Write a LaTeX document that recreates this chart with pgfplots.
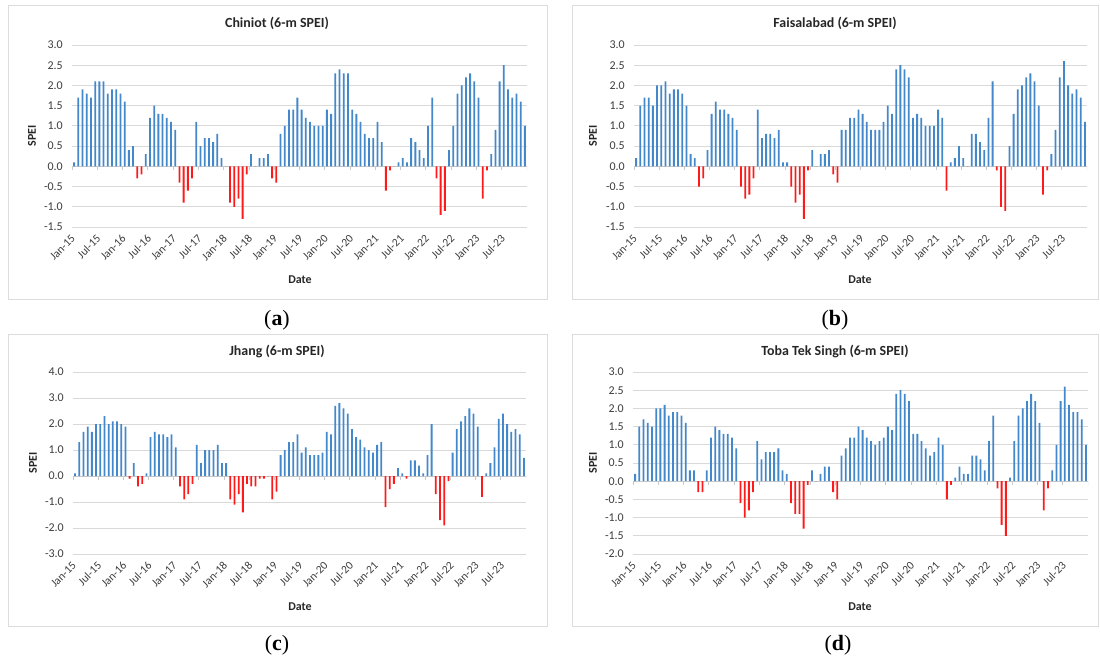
\documentclass[border=0pt]{standalone}
\usepackage{pgfplots}
\pgfplotsset{compat=1.18}
\usepackage{pgfplotstable}
\usepackage{fontspec}
\setmainfont{Carlito}
\newfontfamily\seriffont{Liberation Serif}
\definecolor{speiblue}{RGB}{66,136,202}
\definecolor{speired}{RGB}{255,25,25}
\definecolor{gridgray}{RGB}{217,217,217}
\definecolor{zerogray}{RGB}{200,200,200}
\definecolor{boxgray}{RGB}{220,220,220}
\definecolor{txtgray}{RGB}{60,60,60}

% Chiniot
\pgfplotstableread[row sep=\\]{v\\
0.1\\1.7\\1.9\\1.8\\1.7\\2.1\\2.1\\2.1\\1.8\\1.9\\1.9\\1.8\\1.6\\
0.4\\0.5\\-0.3\\-0.2\\0.3\\1.2\\1.5\\1.3\\1.3\\1.2\\1.1\\0.9\\
-0.4\\-0.9\\-0.6\\-0.3\\1.1\\0.5\\0.7\\0.7\\0.6\\0.8\\0.2\\0\\
-0.9\\-1.0\\-0.8\\-1.3\\-0.2\\0.3\\0\\0.2\\0.2\\0.3\\-0.3\\-0.4\\
0.8\\1.0\\1.4\\1.4\\1.7\\1.4\\1.2\\1.1\\1.0\\1.0\\1.0\\1.4\\
1.3\\2.3\\2.4\\2.3\\2.3\\1.4\\1.3\\1.1\\0.8\\0.7\\0.7\\1.1\\
0.6\\-0.6\\-0.1\\0\\0.1\\0.2\\0.1\\0.7\\0.6\\0.4\\0.2\\1.0\\
1.7\\-0.3\\-1.2\\-1.1\\0.4\\1.0\\1.8\\2.0\\2.2\\2.3\\2.1\\1.7\\
-0.8\\-0.1\\0.3\\0.9\\2.1\\2.5\\1.9\\1.7\\1.8\\1.6\\1.0\\
}\tabA
% Faisalabad
\pgfplotstableread[row sep=\\]{v\\
0.2\\1.5\\1.7\\1.7\\1.5\\2.0\\2.0\\2.1\\1.8\\1.9\\1.9\\1.8\\1.5\\
0.3\\0.2\\-0.5\\-0.3\\0.4\\1.3\\1.6\\1.4\\1.4\\1.3\\1.2\\0.9\\
-0.5\\-0.8\\-0.7\\-0.3\\1.4\\0.7\\0.8\\0.8\\0.7\\0.9\\0.1\\0.1\\
-0.5\\-0.9\\-0.7\\-1.3\\-0.1\\0.4\\0\\0.3\\0.3\\0.4\\-0.2\\-0.4\\
0.9\\0.9\\1.2\\1.2\\1.4\\1.3\\1.1\\0.9\\0.9\\0.9\\1.1\\1.5\\
1.3\\2.4\\2.5\\2.4\\2.2\\1.2\\1.3\\1.2\\1.0\\1.0\\1.0\\1.4\\
1.2\\-0.6\\0.1\\0.2\\0.5\\0.2\\0\\0.8\\0.8\\0.6\\0.4\\1.2\\
2.1\\-0.1\\-1.0\\-1.1\\0.5\\1.3\\1.9\\2.0\\2.2\\2.3\\2.1\\1.5\\
-0.7\\-0.1\\0.3\\0.9\\2.2\\2.6\\2.0\\1.8\\1.9\\1.7\\1.1\\
}\tabB
% Jhang
\pgfplotstableread[row sep=\\]{v\\
0.1\\1.3\\1.7\\1.9\\1.7\\2.0\\2.0\\2.3\\2.0\\2.1\\2.1\\2.0\\1.9\\
-0.1\\0.5\\-0.4\\-0.3\\0.1\\1.5\\1.7\\1.6\\1.6\\1.5\\1.6\\1.1\\
-0.4\\-0.9\\-0.7\\-0.3\\1.2\\0.5\\1.0\\1.0\\1.0\\1.2\\0.5\\0.5\\
-0.9\\-1.1\\-0.7\\-1.4\\-0.3\\-0.4\\-0.4\\-0.1\\-0.1\\0\\-0.9\\-0.6\\
0.8\\1.0\\1.3\\1.3\\1.6\\0.9\\1.1\\0.8\\0.8\\0.8\\0.9\\1.7\\
1.6\\2.7\\2.8\\2.6\\2.4\\1.8\\1.5\\1.4\\1.1\\1.0\\0.9\\1.2\\
1.3\\-1.2\\-0.5\\-0.3\\0.3\\0.1\\-0.1\\0.6\\0.6\\0.4\\0.1\\0.8\\
2.0\\-0.7\\-1.7\\-1.9\\-0.2\\0.9\\1.8\\2.1\\2.3\\2.6\\2.4\\1.9\\
-0.8\\0.1\\0.5\\1.1\\2.2\\2.4\\2.0\\1.7\\1.8\\1.6\\0.7\\
}\tabC
% Toba Tek Singh
\pgfplotstableread[row sep=\\]{v\\
0.2\\1.5\\1.7\\1.6\\1.5\\2.0\\2.0\\2.1\\1.8\\1.9\\1.9\\1.8\\1.6\\
0.3\\0.3\\-0.3\\-0.3\\0.3\\1.2\\1.5\\1.4\\1.3\\1.3\\1.2\\0.9\\
-0.6\\-1.0\\-0.8\\-0.3\\1.1\\0.6\\0.8\\0.8\\0.8\\0.9\\0.3\\0.2\\
-0.6\\-0.9\\-0.9\\-1.3\\-0.1\\0.3\\0\\0.2\\0.4\\0.4\\-0.3\\-0.5\\
0.7\\0.9\\1.2\\1.2\\1.5\\1.4\\1.2\\1.1\\1.0\\1.1\\1.2\\1.5\\
1.4\\2.4\\2.5\\2.4\\2.2\\1.3\\1.3\\1.1\\0.9\\0.7\\0.8\\1.2\\
1.0\\-0.5\\-0.1\\0.1\\0.4\\0.2\\0.2\\0.7\\0.7\\0.6\\0.3\\1.1\\
1.8\\-0.2\\-1.2\\-1.5\\0.1\\1.1\\1.8\\2.0\\2.2\\2.4\\2.2\\1.6\\
-0.8\\-0.2\\0.3\\1.0\\2.2\\2.6\\2.1\\1.9\\1.9\\1.7\\1.0\\
}\tabD

\pgfplotsset{
  speiaxis/.style={
    scale only axis, anchor=south west,
    xmin=-0.5, xmax=107.5, enlarge x limits=false,
    axis x line*=bottom, axis y line*=left,
    axis line style={draw=none},
    major tick length=0pt,
    ymajorgrids, grid style={gridgray, line width=0.8bp},
    xtick={0,6,12,18,24,30,36,42,48,54,60,66,72,78,84,90,96,102},
    xticklabels={Jan-15,Jul-15,Jan-16,Jul-16,Jan-17,Jul-17,Jan-18,Jul-18,Jan-19,Jul-19,Jan-20,Jul-20,Jan-21,Jul-21,Jan-22,Jul-22,Jan-23,Jul-23},
    xticklabel style={rotate=45, anchor=east, inner sep=1bp, font=\fontsize{11.5}{13}\selectfont, text=txtgray},
    xticklabel shift=9bp,
    yticklabel style={font=\fontsize{12}{14}\selectfont, text=txtgray, inner sep=1bp},
    yticklabel shift=8bp,
    /pgf/number format/.cd, fixed, fixed zerofill, precision=1, assume math mode=true,
  },
  posbar/.style={ybar, bar shift=0pt, bar width=1.8bp, fill=speiblue, draw=none, restrict y to domain=0:10},
  negbar/.style={ybar, bar shift=0pt, bar width=1.8bp, fill=speired, draw=none, restrict y to domain=-10:0},
}
\newcommand{\zeroaxis}{%
  \draw[zerogray, line width=0.8bp] (axis cs:-0.5,0) -- (axis cs:107.5,0);
  \pgfplotsinvokeforeach{-0.5,5.5,11.5,17.5,23.5,29.5,35.5,41.5,47.5,53.5,59.5,65.5,71.5,77.5,83.5,89.5,95.5,101.5,107.5}{%
    \draw[zerogray, line width=0.8bp] (axis cs:##1,0) -- ++(0bp,-4bp);}%
}

\begin{document}
\begin{tikzpicture}
\path[use as bounding box] (0bp,0bp) rectangle (1100bp,-661bp);

% boxes
\draw[boxgray, line width=1bp] (8bp,-5bp) rectangle (547bp,-299bp);
\draw[boxgray, line width=1bp] (572bp,-5bp) rectangle (1098bp,-299bp);
\draw[boxgray, line width=1bp] (8bp,-334bp) rectangle (547bp,-626bp);
\draw[boxgray, line width=1bp] (572bp,-334bp) rectangle (1098bp,-626bp);

% (a)
\begin{axis}[speiaxis, at={(72bp,-227bp)}, width=455bp, height=182bp,
  ymin=-1.5, ymax=3, ytick={-1.5,-1,...,3}]
  \zeroaxis
  \addplot[posbar] table[x expr=\coordindex, y=v] {\tabA};
  \addplot[negbar] table[x expr=\coordindex, y=v] {\tabA};
\end{axis}
% (b)
\begin{axis}[speiaxis, at={(634bp,-227bp)}, width=453bp, height=182bp,
  ymin=-1.5, ymax=3, ytick={-1.5,-1,...,3}]
  \zeroaxis
  \addplot[posbar] table[x expr=\coordindex, y=v] {\tabB};
  \addplot[negbar] table[x expr=\coordindex, y=v] {\tabB};
\end{axis}
% (c)
\begin{axis}[speiaxis, at={(73bp,-554bp)}, width=453bp, height=182bp,
  ymin=-3, ymax=4, ytick={-3,-2,...,4}]
  \zeroaxis
  \addplot[posbar] table[x expr=\coordindex, y=v] {\tabC};
  \addplot[negbar] table[x expr=\coordindex, y=v] {\tabC};
\end{axis}
% (d)
\begin{axis}[speiaxis, at={(633bp,-554bp)}, width=455bp, height=182bp,
  ymin=-2, ymax=3, ytick={-2,-1.5,...,3}]
  \zeroaxis
  \addplot[posbar] table[x expr=\coordindex, y=v] {\tabD};
  \addplot[negbar] table[x expr=\coordindex, y=v] {\tabD};
\end{axis}

% titles
\begin{scope}[every node/.style={font=\fontsize{14}{17}\selectfont\bfseries, text=black!85}]
\node at (277bp,-23bp) {Chiniot (6-m SPEI)};
\node at (835bp,-23bp) {Faisalabad (6-m SPEI)};
\node at (277bp,-352bp) {Jhang (6-m SPEI)};
\node at (835bp,-352bp) {Toba Tek Singh (6-m SPEI)};
\end{scope}
% axis labels
\begin{scope}[every node/.style={font=\fontsize{12}{14}\selectfont\bfseries, text=black!85}]
\node[rotate=90] at (32bp,-136bp) {SPEI};
\node[rotate=90] at (593bp,-136bp) {SPEI};
\node[rotate=90] at (33bp,-463bp) {SPEI};
\node[rotate=90] at (593bp,-463bp) {SPEI};
\node at (300bp,-280bp) {Date};
\node at (860bp,-280bp) {Date};
\node at (300bp,-607bp) {Date};
\node at (860bp,-607bp) {Date};
\end{scope}
% panel letters
\begin{scope}[every node/.style={font=\seriffont\fontsize{22}{26}\selectfont}]
\node at (277bp,-320bp) {(\textbf{a})};
\node at (835bp,-320bp) {(\textbf{b})};
\node at (277bp,-645bp) {(\textbf{c})};
\node at (838bp,-645bp) {(\textbf{d})};
\end{scope}
\end{tikzpicture}
\end{document}
